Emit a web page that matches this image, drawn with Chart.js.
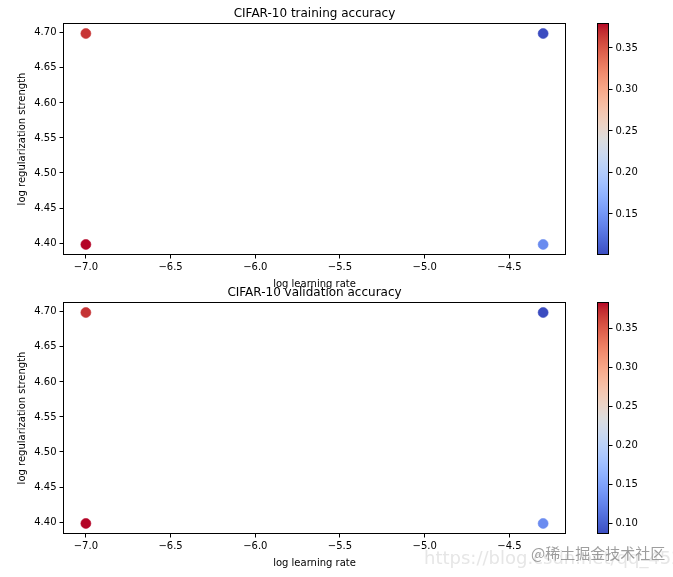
<!DOCTYPE html>
<html>
<head>
<meta charset="utf-8">
<script src="https://cdn.jsdelivr.net/npm/chart.js@4/dist/chart.umd.min.js"></script>
<style>
  html, body { margin: 0; padding: 0; background: #fff; }
  #wrap { position: relative; width: 673px; height: 577px; overflow: hidden; background: #fff; }
  canvas { position: absolute; }
  .wm { position: absolute; white-space: nowrap; }
</style>
</head>
<body>
<div id="wrap">
  <canvas id="trainScatter" width="580" height="290" style="left:0;top:0;"></canvas>
  <canvas id="trainBar" width="113" height="290" style="left:560px;top:0;"></canvas>
  <canvas id="valScatter" width="580" height="290" style="left:0;top:279px;"></canvas>
  <canvas id="valBar" width="113" height="290" style="left:560px;top:279px;"></canvas>
  <div class="wm" style="left:424px;top:547px;font:18px 'DejaVu Sans';color:rgba(205,205,205,0.5);">https://blog.csdn.net/qq_45230059</div>
  <div class="wm" style="left:531px;top:542px;font:15px 'Noto Sans CJK SC';color:rgba(125,125,125,0.75);">@稀土掘金技术社区</div>
</div>
<script>
// ---- data ----
const logLearningRate = [-7.0, -7.0, -4.301, -4.301];
const logRegStrength  = [4.699, 4.398, 4.699, 4.398];
const trainAccuracy   = [0.366, 0.380, 0.1006, 0.142];
const valAccuracy     = [0.370, 0.384, 0.087, 0.132];
const xTickValues     = [-7.0, -6.5, -6.0, -5.5, -5.0, -4.5];
const yTickValues     = [4.40, 4.45, 4.50, 4.55, 4.60, 4.65, 4.70];
const trainCbTicks    = [0.15, 0.20, 0.25, 0.30, 0.35];
const valCbTicks      = [0.10, 0.15, 0.20, 0.25, 0.30, 0.35];

// ---- matplotlib "coolwarm" colormap (33 anchor colours) ----
const CW_R = [0.2298057,0.26623388,0.30386891,0.342804478,0.38301334,0.424369608,0.46666708,0.509635204,0.552953156,0.596262162,0.639176211,0.681291281,0.722193294,0.761464949,0.798691636,0.833466556,0.865395197,0.897787179,0.924127593,0.944468518,0.958852946,0.96732803,0.969954137,0.966811177,0.958003065,0.943660866,0.923944917,0.89904617,0.869186849,0.834620542,0.795631745,0.752534934,0.705673158];
const CW_G = [0.298717966,0.353094838,0.406535296,0.458757618,0.50941904,0.558148092,0.604562568,0.648280772,0.688929332,0.726149107,0.759599947,0.788964712,0.813952739,0.834302879,0.849786142,0.860207984,0.86541021,0.848937047,0.827384882,0.800927443,0.769767752,0.734132809,0.694266682,0.650421156,0.602842431,0.551750968,0.49730856,0.439559467,0.378313092,0.312874446,0.24128379,0.157246067,0.01555616];
const CW_B = [0.753683153,0.801466763,0.84495867,0.883725899,0.917387822,0.945619588,0.968154911,0.98478814,0.995375608,0.999836203,0.998151185,0.990363227,0.976574709,0.956945269,0.931688648,0.901068838,0.865395561,0.820880546,0.774508472,0.726736146,0.678007945,0.628751763,0.579375448,0.530263762,0.481775914,0.434243684,0.387970225,0.343229596,0.300267182,0.259301199,0.220525627,0.184115123,0.150232812];
function coolwarm(t) {
  t = Math.max(0, Math.min(1, t));
  const f = t * 32, i = Math.min(31, Math.floor(f)), u = f - i;
  const c = a => Math.round(255 * (a[i] + (a[i + 1] - a[i]) * u));
  return `rgb(${c(CW_R)},${c(CW_G)},${c(CW_B)})`;
}

const FONT = "'DejaVu Sans', 'Liberation Sans', sans-serif";
const fmtMinus = (v, d) => v.toFixed(d).replace('-', '\u2212');

const framePlugin = {
  id: 'frame',
  afterDraw(chart) {
    const { ctx, chartArea: a } = chart;
    ctx.save();
    ctx.strokeStyle = '#000';
    ctx.lineWidth = 1;
    ctx.strokeRect(Math.round(a.left) + 0.5, Math.round(a.top) + 0.5,
                   Math.round(a.right - a.left) - 1, Math.round(a.bottom - a.top) - 1);
    ctx.restore();
  }
};
const axTitlePlugin = {
  id: 'axTitle',
  afterDraw(chart, args, opts) {
    if (!opts || !opts.text) return;
    const { ctx, chartArea: a } = chart;
    ctx.save();
    ctx.font = '12px ' + FONT;
    ctx.fillStyle = '#000';
    ctx.textAlign = 'center';
    ctx.textBaseline = 'alphabetic';
    ctx.fillText(opts.text, (a.left + a.right) / 2, a.top - 6);
    ctx.restore();
  }
};

function tickGrid() {
  return { drawOnChartArea: false, drawTicks: true, tickLength: 3.5, color: '#000', tickColor: '#000', tickWidth: 1 };
}

function makeScatter(id, acc, title) {
  const vmin = Math.min(...acc), vmax = Math.max(...acc);
  const xs0 = Math.min(...logLearningRate), xs1 = Math.max(...logLearningRate);
  const ys0 = Math.min(...logRegStrength), ys1 = Math.max(...logRegStrength);
  const mx = 0.05 * (xs1 - xs0), my = 0.05 * (ys1 - ys0);
  const pts = logLearningRate.map((x, i) => ({ x, y: logRegStrength[i] }));
  const colors = acc.map(v => coolwarm((v - vmin) / (vmax - vmin)));
  new Chart(document.getElementById(id), {
    type: 'scatter',
    data: { datasets: [{ data: pts, pointRadius: 5, pointHoverRadius: 5, pointBorderWidth: 0.6,
      pointBackgroundColor: colors, pointBorderColor: colors }] },
    options: {
      responsive: false, animation: false,
      layout: { padding: { left: 0, right: 14, top: 23, bottom: 0 } },
      plugins: { legend: { display: false }, tooltip: { enabled: false }, axTitle: { text: title } },
      scales: {
        x: {
          type: 'linear', min: xs0 - mx, max: xs1 + mx,
          afterBuildTicks: s => { s.ticks = xTickValues.map(v => ({ value: v })); },
          afterFit: s => { s.height = 35; },
          ticks: { callback: v => fmtMinus(v, 1), font: { family: FONT, size: 10 }, color: '#000', padding: 3, maxRotation: 0, autoSkip: false },
          grid: tickGrid(), border: { display: false },
          title: { display: true, text: 'log learning rate', font: { family: FONT, size: 10 }, color: '#000', padding: { top: 1, bottom: 0 } }
        },
        y: {
          type: 'linear', min: ys0 - my, max: ys1 + my,
          afterBuildTicks: s => { s.ticks = yTickValues.map(v => ({ value: v })); },
          afterFit: s => { s.width = 63; },
          ticks: { callback: v => v.toFixed(2), font: { family: FONT, size: 10 }, color: '#000', padding: 3, autoSkip: false },
          grid: tickGrid(), border: { display: false },
          title: { display: true, text: 'log regularization strength', font: { family: FONT, size: 10 }, color: '#000', padding: { top: 16, bottom: 0 } }
        }
      }
    },
    plugins: [framePlugin, axTitlePlugin]
  });
}

function makeColorbar(id, acc, cbTicks) {
  const vmin = Math.min(...acc), vmax = Math.max(...acc);
  new Chart(document.getElementById(id), {
    type: 'bar',
    data: { labels: [''], datasets: [{
      data: [[vmin, vmax]], barPercentage: 1, categoryPercentage: 1, borderWidth: 0, borderSkipped: false,
      backgroundColor: c => {
        const a = c.chart.chartArea;
        if (!a) return '#888';
        const g = c.chart.ctx.createLinearGradient(0, a.bottom, 0, a.top);
        for (let i = 0; i <= 32; i++) g.addColorStop(i / 32, coolwarm(i / 32));
        return g;
      }
    }] },
    options: {
      responsive: false, animation: false,
      layout: { padding: { left: 37, right: 0, top: 23, bottom: 35 } },
      plugins: { legend: { display: false }, tooltip: { enabled: false } },
      scales: {
        x: { display: false },
        y: {
          position: 'right', min: vmin, max: vmax,
          afterBuildTicks: s => { s.ticks = cbTicks.map(v => ({ value: v })); },
          afterFit: s => { s.width = 64; },
          ticks: { callback: v => v.toFixed(2), font: { family: FONT, size: 10 }, color: '#000', padding: 3, autoSkip: false },
          grid: tickGrid(), border: { display: false }
        }
      }
    },
    plugins: [framePlugin]
  });
}

makeScatter('trainScatter', trainAccuracy, 'CIFAR-10 training accuracy');
makeColorbar('trainBar', trainAccuracy, trainCbTicks);
makeScatter('valScatter', valAccuracy, 'CIFAR-10 validation accuracy');
makeColorbar('valBar', valAccuracy, valCbTicks);
</script>
</body>
</html>
